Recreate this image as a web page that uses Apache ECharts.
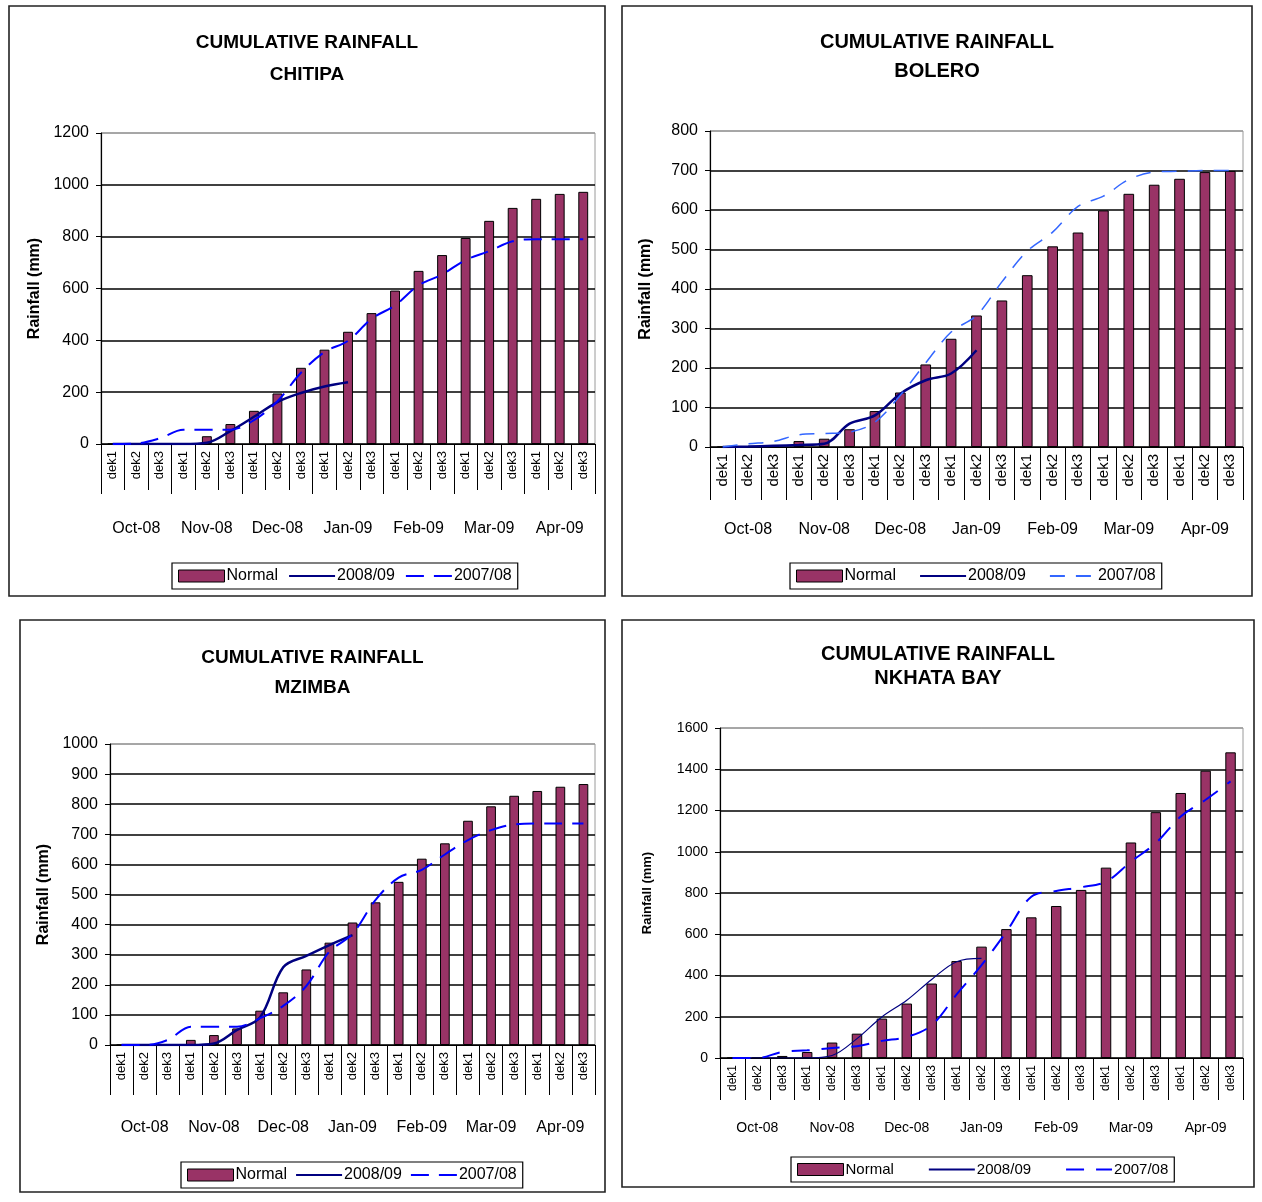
<!DOCTYPE html>
<html>
<head>
<meta charset="utf-8">
<script src="https://cdn.jsdelivr.net/npm/echarts@6/dist/echarts.min.js"></script>
<style>
  html, body { margin: 0; padding: 0; background: #ffffff; }
  #page { position: relative; width: 1262px; height: 1202px; }
  .panel { position: absolute; }
</style>
</head>
<body>
<div id="page"></div>
<script>
// Dekad (10-day period) categories and month groups, Oct 2008 - Apr 2009
const dekads = ['dek1','dek2','dek3','dek1','dek2','dek3','dek1','dek2','dek3','dek1','dek2','dek3',
                'dek1','dek2','dek3','dek1','dek2','dek3','dek1','dek2','dek3'];
const months = ['Oct-08','Nov-08','Dec-08','Jan-09','Feb-09','Mar-09','Apr-09'];
const seriesNames = ['Normal', '2008/09', '2007/08'];

// Cumulative rainfall (mm) per station
const chitipaNormal = [0,0,0,0,30,77,128,195,294,364,433,505,592,668,729,795,861,911,946,965,973];
const chitipa0809   = [0,0,0,0,5,50,105,162,197,222,238];
const chitipa0708   = [0,2,22,55,55,55,92,165,275,355,398,483,535,612,654,710,744,782,790,790,790];

const boleroNormal = [0,0,0,15,21,45,91,138,209,274,333,371,435,508,543,599,641,664,679,696,699];
const bolero0809   = [0,1,3,5,8,59,80,135,169,186,245];
const bolero0708   = [0,8,14,31,34,38,63,131,213,291,333,418,496,544,609,635,677,696,698,700,700];

const mzimbaNormal = [0,0,0,17,33,55,114,175,251,340,407,474,542,619,670,745,793,828,844,858,867];
const mzimba0809   = [0,0,0,0,5,50,92,258,296,332,365];
const mzimba0708   = [0,0,17,61,61,61,89,130,196,310,369,482,556,582,633,681,714,733,736,736,736];

const nkhataNormal = [0,0,10,29,75,118,191,264,361,470,540,625,682,737,815,923,1045,1192,1285,1393,1482];
const nkhata0809   = [0,0,0,0,12,94,199,280,381,467,483];
const nkhata0708   = [0,0,29,37,49,57,83,102,159,308,450,612,782,810,828,855,952,1042,1171,1252,1341];

const FONT = '"Liberation Sans", Arial, sans-serif';

// Layout and styling of each panel
const panels = [
  { id: 'chitipa', station: 'CHITIPA', normal: chitipaNormal, cur: chitipa0809, prev: chitipa0708,
    left: 8, top: 5, w: 598, h: 592,
    titleTop: 17, titleLH: 32, titleSize: 19,
    grid: { left: 93, top: 128, width: 494, height: 311 },
    yMax: 1200, yInt: 200, ySize: 16, nameGap: 58, nameSize: 16,
    dekTick: 46, dekSize: 13, monTick: 50, monMargin: 31, monSize: 16,
    legend: { left: 164, top: 558 }, legendSize: 16, legendGap: 10,
    prevColor: '#0000ff', prevWidth: 2, prevDash: [18, 10], curWidth: 2.5 },
  { id: 'bolero', station: 'BOLERO', normal: boleroNormal, cur: bolero0809, prev: bolero0708,
    left: 621, top: 5, w: 632, h: 592,
    titleTop: 18, titleLH: 29, titleSize: 20,
    grid: { left: 89, top: 126, width: 533, height: 316 },
    yMax: 800, yInt: 100, ySize: 16, nameGap: 56, nameSize: 16,
    dekTick: 53, dekSize: 15, monTick: 40, monMargin: 22, monSize: 16,
    legend: { left: 169, top: 558 }, legendSize: 16, legendGap: 23,
    prevColor: '#3366ff', prevWidth: 1.5, prevDash: [15, 11], curWidth: 2.5 },
  { id: 'mzimba', station: 'MZIMBA', normal: mzimbaNormal, cur: mzimba0809, prev: mzimba0708,
    left: 19, top: 619, w: 587, h: 574,
    titleTop: 19, titleLH: 30, titleSize: 19,
    grid: { left: 91, top: 125, width: 485, height: 301 },
    yMax: 1000, yInt: 100, ySize: 16, nameGap: 58, nameSize: 16,
    dekTick: 50, dekSize: 13, monTick: 45, monMargin: 25, monSize: 16,
    legend: { left: 162, top: 543 }, legendSize: 16, legendGap: 8,
    prevColor: '#0000ff', prevWidth: 2, prevDash: [18, 10], curWidth: 2.5 },
  { id: 'nkhata', station: 'NKHATA BAY', normal: nkhataNormal, cur: nkhata0809, prev: nkhata0708,
    left: 621, top: 619, w: 634, h: 569,
    titleTop: 18, titleLH: 24, titleSize: 20,
    grid: { left: 99, top: 109, width: 523, height: 330 },
    yMax: 1600, yInt: 200, ySize: 14, nameGap: 66, nameSize: 13,
    dekTick: 42, dekSize: 12, monTick: 40, monMargin: 21, monSize: 14,
    legend: { left: 170, top: 538 }, legendSize: 15, legendGap: 34,
    prevColor: '#0000ff', prevWidth: 2, prevDash: [18, 12], curWidth: 1.2 }
];

function splitColors(max, interval) {
  const n = Math.round(max / interval) + 1;
  const arr = [];
  for (let i = 0; i < n; i++) arr.push(i === n - 1 ? '#9a9a9a' : '#000000');
  return arr;
}

function buildOption(p) {
  return {
    animation: false,
    backgroundColor: '#ffffff',
    textStyle: { fontFamily: FONT, color: '#000' },
    title: {
      text: 'CUMULATIVE RAINFALL\n' + p.station,
      left: 'center',
      top: p.titleTop,
      textStyle: { fontFamily: FONT, fontWeight: 'bold', fontSize: p.titleSize,
                   lineHeight: p.titleLH, color: '#000' }
    },
    graphic: [{
      type: 'rect', silent: true, z: 100,
      shape: { x: 1, y: 1, width: p.w - 2, height: p.h - 2 },
      style: { fill: null, stroke: '#222', lineWidth: 1.6 }
    }],
    legend: {
      left: p.legend.left, top: p.legend.top,
      orient: 'horizontal',
      padding: [5, 6, 5, 6],
      itemGap: p.legendGap,
      itemWidth: 46, itemHeight: 12,
      borderColor: '#000', borderWidth: 1.2,
      textStyle: { fontFamily: FONT, fontSize: p.legendSize, color: '#000', padding: [0, 0, 0, -3] },
      data: [
        { name: seriesNames[0], icon: 'rect', itemStyle: { borderColor: '#000', borderWidth: 1 } },
        { name: seriesNames[1], itemStyle: { opacity: 0 } },
        { name: seriesNames[2], itemStyle: { opacity: 0 } }
      ]
    },
    grid: Object.assign({ show: true, borderColor: '#9a9a9a', borderWidth: 1,
                          backgroundColor: 'transparent' }, p.grid),
    xAxis: [
      {
        type: 'category', data: dekads, position: 'bottom', boundaryGap: true,
        axisLine: { show: true, onZero: false, lineStyle: { color: '#000', width: 1.2 } },
        axisTick: { show: true, interval: 0, length: p.dekTick, lineStyle: { color: '#000', width: 1 } },
        axisLabel: { interval: 0, rotate: 90, margin: 7, fontSize: p.dekSize, color: '#000', fontFamily: FONT },
        splitLine: { show: false }
      },
      {
        type: 'category', data: months, position: 'bottom', offset: p.dekTick, boundaryGap: true,
        axisLine: { show: false },
        axisTick: { show: true, interval: 0, length: p.monTick, lineStyle: { color: '#000', width: 1 } },
        axisLabel: { interval: 0, margin: p.monMargin, fontSize: p.monSize, color: '#000', fontFamily: FONT },
        splitLine: { show: false }
      }
    ],
    yAxis: {
      type: 'value', min: 0, max: p.yMax, interval: p.yInt,
      name: 'Rainfall (mm)', nameLocation: 'middle', nameGap: p.nameGap, nameRotate: 90,
      nameTextStyle: { fontFamily: FONT, fontWeight: 'bold', fontSize: p.nameSize, color: '#000' },
      axisLine: { show: true, lineStyle: { color: '#000', width: 1.2 } },
      axisTick: { show: true, length: 5, lineStyle: { color: '#000' } },
      axisLabel: { fontSize: p.ySize, color: '#000', margin: 12, fontFamily: FONT,
                   formatter: function (v) { return String(v); } },
      splitLine: { show: true, lineStyle: { color: splitColors(p.yMax, p.yInt), width: 1.6 } }
    },
    series: [
      {
        name: seriesNames[0], type: 'bar', xAxisIndex: 0, data: p.normal,
        barWidth: '42%',
        itemStyle: { color: '#993366', borderColor: '#000', borderWidth: 1 },
        z: 2
      },
      {
        name: seriesNames[1], type: 'line', xAxisIndex: 0, data: p.cur,
        smooth: 0.35, symbol: 'none',
        lineStyle: { color: '#000080', width: p.curWidth, type: 'solid' },
        itemStyle: { color: '#000080' },
        z: 3
      },
      {
        name: seriesNames[2], type: 'line', xAxisIndex: 0, data: p.prev,
        smooth: 0.35, symbol: 'none',
        lineStyle: { color: p.prevColor, width: p.prevWidth, type: p.prevDash },
        itemStyle: { color: p.prevColor },
        z: 4
      }
    ]
  };
}

const page = document.getElementById('page');
panels.forEach(function (p) {
  const div = document.createElement('div');
  div.className = 'panel';
  div.id = p.id;
  div.style.left = p.left + 'px';
  div.style.top = p.top + 'px';
  div.style.width = p.w + 'px';
  div.style.height = p.h + 'px';
  page.appendChild(div);
  const chart = echarts.init(div, null, { renderer: 'canvas' });
  chart.setOption(buildOption(p));
});
</script>
</body>
</html>
